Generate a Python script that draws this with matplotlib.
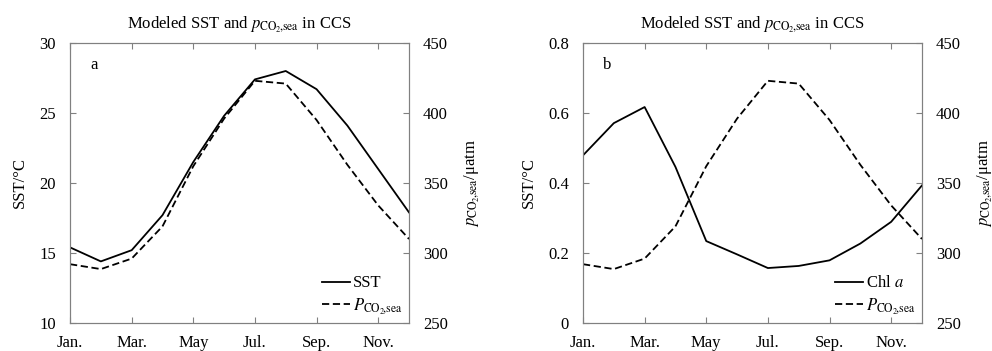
import matplotlib
matplotlib.use("Agg")
import matplotlib.pyplot as plt

plt.rcParams["font.family"] = ["Liberation Serif", "DejaVu Serif"]
plt.rcParams["mathtext.fontset"] = "stix"

months = list(range(1, 13))
month_ticks = [1, 3, 5, 7, 9, 11]
month_labels = ["Jan.", "Mar.", "May", "Jul.", "Sep.", "Nov."]

sst = [15.4, 14.4, 15.2, 17.7, 21.5, 24.8, 27.4, 28.0, 26.7, 24.1, 21.0, 17.9]
chl = [0.479, 0.571, 0.617, 0.446, 0.234, 0.196, 0.157, 0.163, 0.179, 0.227, 0.289, 0.393]
pco2 = [292, 288.5, 296, 319, 362, 396, 423, 421, 395, 363, 334, 310]

PCO2_SUB = r"_{\mathrm{CO}_2\!{,}\mathrm{sea}}"
TITLE = r"Modeled SST and $p" + PCO2_SUB + r"$ in CCS"
GRAY = "#808080"
FS = 12


def style_axes(ax):
    for s in ax.spines.values():
        s.set_color(GRAY)
    ax.tick_params(direction="in", length=4, color=GRAY, labelsize=FS)


def draw_panel(ax, left_vals, left_lim, left_ticks, left_name, letter):
    ax2 = ax.twinx()
    l1, = ax.plot(months, left_vals, color="black", lw=1.3, label=left_name)
    l2, = ax2.plot(months, pco2, color="black", lw=1.3, linestyle=(0, (4, 2)),
                   label=r"$P" + PCO2_SUB + "$")
    ax.set_xlim(1, 12)
    ax.set_ylim(*left_lim)
    ax.set_yticks(left_ticks)
    ax2.set_ylim(250, 450)
    ax2.set_yticks([250, 300, 350, 400, 450])
    ax.set_xticks(month_ticks)
    ax.set_xticklabels(month_labels)
    style_axes(ax)
    style_axes(ax2)
    ax.tick_params(axis="x", top=True, pad=9)
    ax.tick_params(axis="y", pad=10)
    ax2.tick_params(axis="y", pad=10)
    ax.set_ylabel("SST/°C", fontsize=FS, labelpad=8)
    ax2.set_ylabel(r"$p" + PCO2_SUB + r"$/μatm", fontsize=FS, rotation=90, labelpad=10)
    ax.set_title(TITLE, fontsize=12, pad=11)
    ax.text(0.06, 0.92, letter, transform=ax.transAxes, fontsize=FS, va="center")
    ax.legend([l1, l2], [l1.get_label(), l2.get_label()], loc="lower right",
              frameon=False, fontsize=FS, handlelength=1.7, handletextpad=0.15,
              labelspacing=0.3, borderaxespad=0.0)


fig = plt.figure(figsize=(9.92, 3.51), dpi=100)
ax_a = fig.add_axes([0.0706, 0.0798, 0.3417, 0.7977])
ax_b = fig.add_axes([0.5877, 0.0798, 0.3417, 0.7977])

draw_panel(ax_a, sst, (10, 30), [10, 15, 20, 25, 30], "SST", "a")
draw_panel(ax_b, chl, (0, 0.8), [0, 0.2, 0.4, 0.6, 0.8], r"Chl $a$", "b")
ax_b.set_yticklabels(["0", "0.2", "0.4", "0.6", "0.8"])

fig.savefig("out.png", dpi=100)
